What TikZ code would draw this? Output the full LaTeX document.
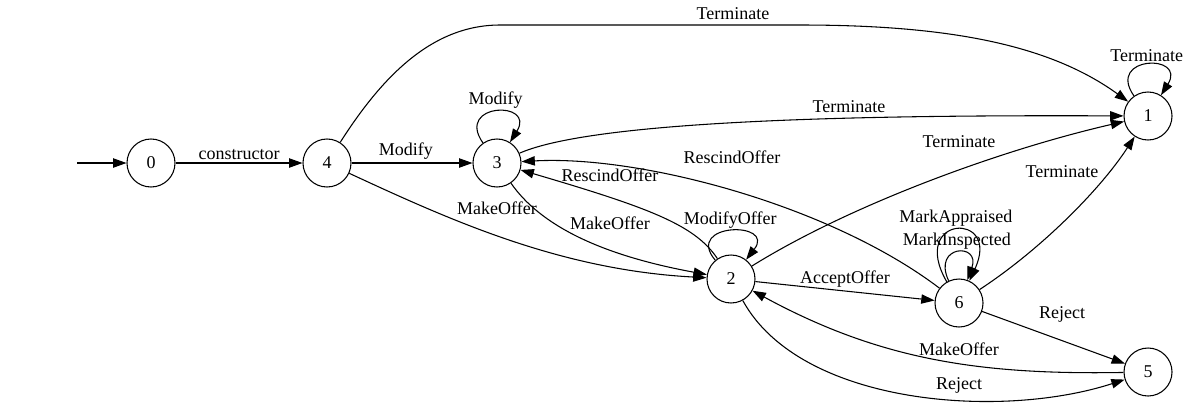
\documentclass[tikz,border=0pt]{standalone}
\usepackage{fontspec}
\setmainfont{Liberation Serif}
\usetikzlibrary{arrows.meta}
\usetikzlibrary{calc}

\begin{document}
\begin{tikzpicture}[x=0.75pt, y=-0.75pt, auto, line width=0.8pt, inner sep=2pt,
        font=\fontsize{13.5}{15}\selectfont,
        node_style/.style={circle,draw=black,minimum size=36pt,inner sep=0pt},
        edge_style/.style={draw=black,-{Triangle[length=10pt,width=7pt]}},
        loop_style/.style={out=125,in=58,distance=37pt}]

        \useasboundingbox (0,0) rectangle (1191,405);

        \coordinate (start) at (77,163);

        \node [node_style](n0) at (151,163) {0};

        \node [node_style](n1) at (1148,116) {1};

        \node [node_style](n2) at (731,279) {2};

        \node [node_style](n3) at (497,163) {3};

        \node [node_style](n4) at (327,163) {4};

        \node [node_style](n5) at (1148,372) {5};

        \node [node_style](n6) at (959,303) {6};

        \draw [edge_style] (start) -- (n0);

        \draw [edge_style] (n0) edge node{constructor} (n4);

        \draw [edge_style] (n4) edge node[pos=0.45]{Modify} (n3);

        \draw [edge_style] (n4) .. controls (380,80) and (430,25) .. (500,25) -- (800,25)
            .. controls (950,25) and (1050,45) .. (n1) node at (733,14) {Terminate};

        \draw [edge_style] (n4) .. controls (450,220) and (560,270) .. (n2) node at (497,208) {MakeOffer};

        \draw [edge_style] (n3) edge [loop_style] node{Modify} (n3);

        \draw [edge_style] (n3) .. controls (600,118) and (900,115) .. (n1) node at (849,107) {Terminate};

        \draw [edge_style] (n3) .. controls (540,225) and (600,255) .. (n2) node at (610,223) {MakeOffer};

        \draw [edge_style] (n2) .. controls (695,225) and (650,208) .. (n3) node at (610,175) {RescindOffer};

        \draw [edge_style] (n6) .. controls (830,205) and (640,155) .. (n3) node at (732,157) {RescindOffer};

        \draw [edge_style] (n2) edge [loop_style, out=130, in=52] node{ModifyOffer} (n2);

        \draw [edge_style] (n2) .. controls (850,205) and (1000,150) .. (n1) node at (959,142) {Terminate};

        \draw [edge_style] (n2) edge node[anchor=south]{AcceptOffer} (n6);

        \draw [edge_style] (n2) .. controls (800,405) and (1000,420) .. (n5) node at (959,385) {Reject};

        \draw [edge_style] (n5) .. controls (980,375) and (880,360) .. (n2) node at (959,349) {MakeOffer};

        \draw [edge_style] (n6) edge [out=120, in=65, distance=58pt] node{MarkAppraised} (n6);

        \draw [edge_style] (n6) edge [out=115, in=70, distance=30pt] node{MarkInspected} (n6);

        \draw [edge_style] (n6) .. controls (1040,250) and (1100,190) .. (n1) node at (1062,172) {Terminate};

        \draw [edge_style] (n6) -- (n5) node at (1062,314) {Reject};

        \draw [edge_style] (n1) edge [loop_style] node{Terminate} (n1);

\end{tikzpicture}
\end{document}
